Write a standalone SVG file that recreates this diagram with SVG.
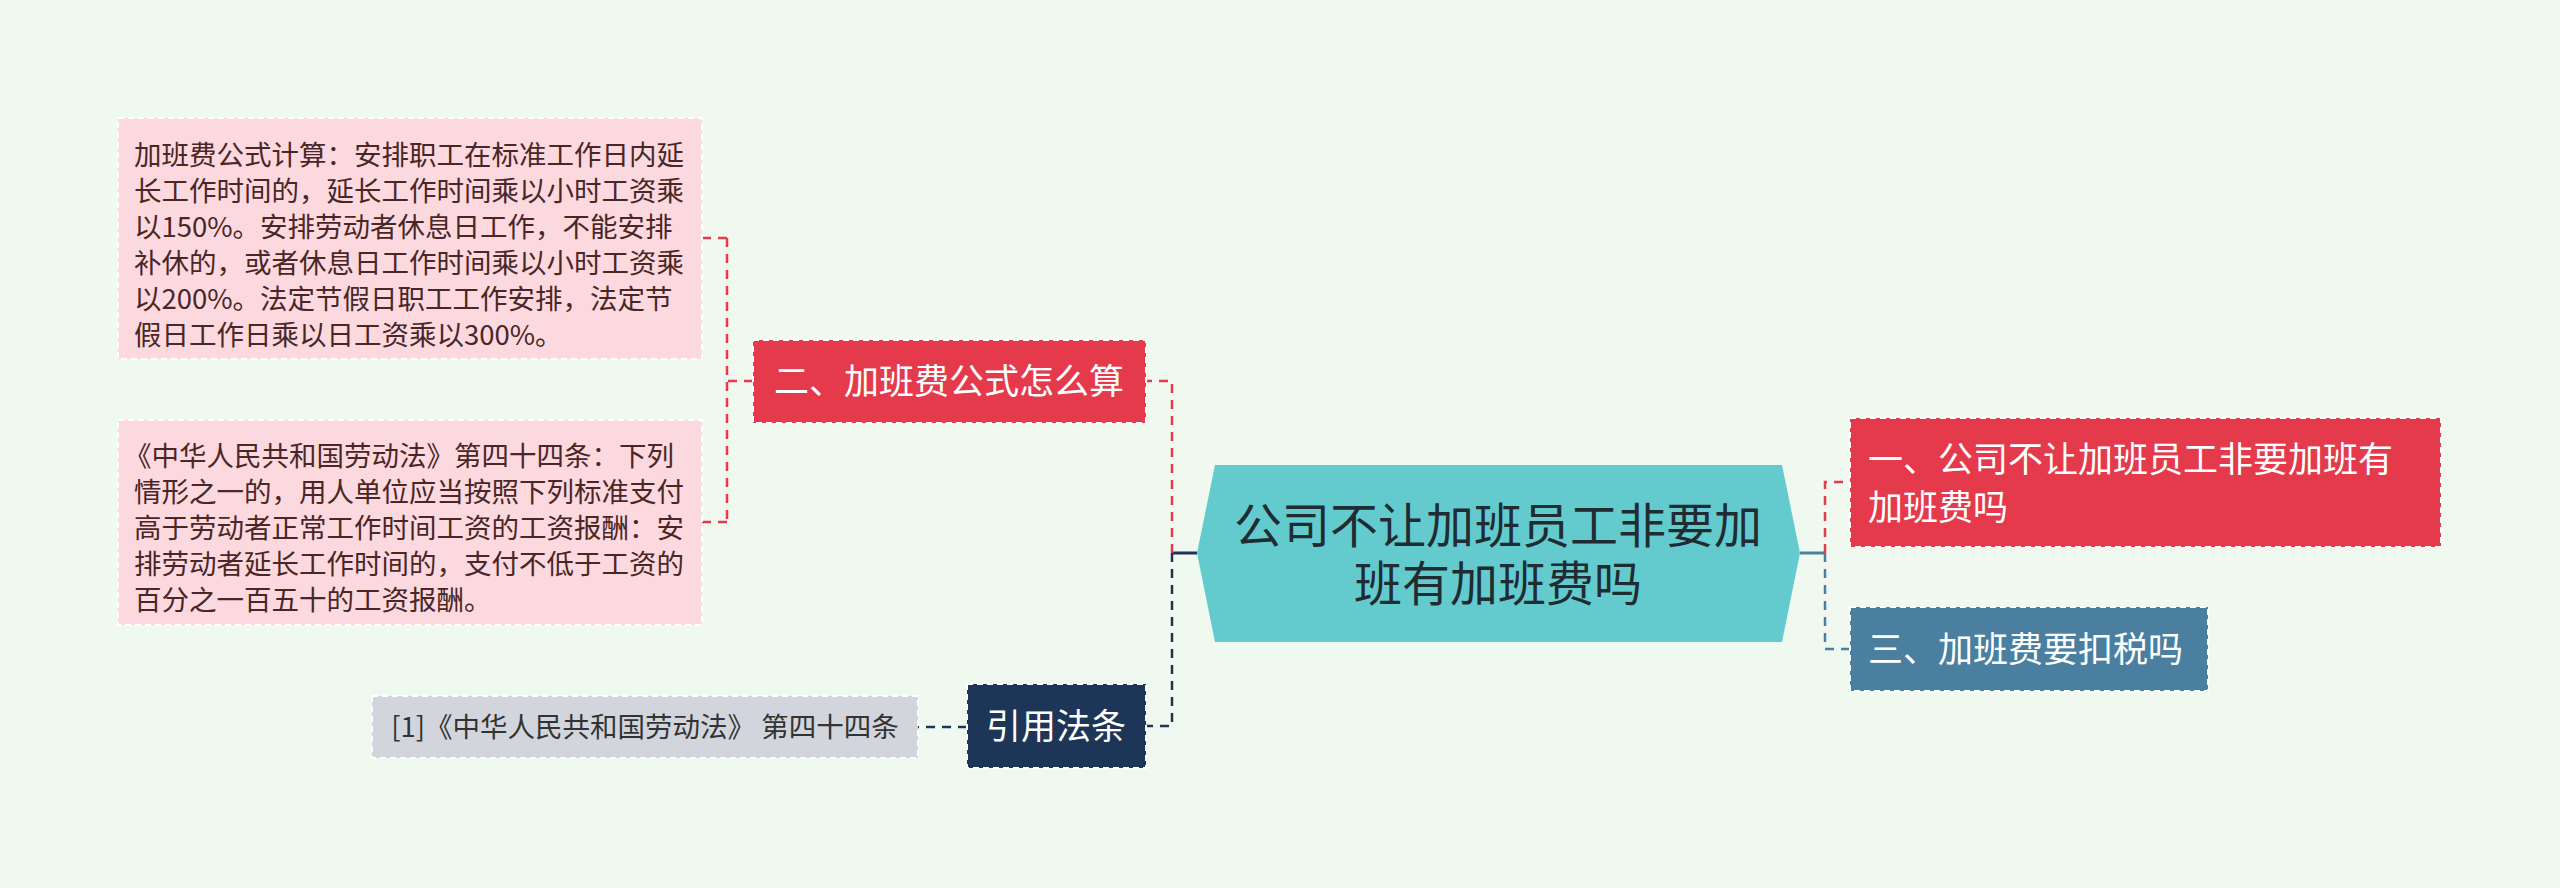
<svg xmlns="http://www.w3.org/2000/svg" width="2560" height="888" viewBox="0 0 2560 888">
<style>
text{font-family:"Noto Sans CJK SC","Liberation Sans",sans-serif}
.leaf{fill:#fbd9de;stroke:#fff;stroke-width:2;stroke-dasharray:6 4}
.lt{font-size:27.5px;fill:#4a2626}
.nt{font-size:35px;fill:#fff}
.c{fill:none;stroke-width:2.5;stroke-dasharray:9 7}
</style>
<rect width="2560" height="888" fill="#f0f9ef"/>
<g id="connectors">
<line x1="1197" y1="553" x2="1172" y2="553" stroke="#1d3557" stroke-width="3"/>
<path class="c" stroke="#e53a4b" d="M1172 553 V381 H1146"/>
<path class="c" stroke="#1d3557" d="M1172 553 V726 H1146"/>
<path class="c" stroke="#e53a4b" d="M753 381 H727 M727 238 V522 M727 238 H702 M727 522 H702"/>
<path class="c" stroke="#1d3557" d="M967 727 H918"/>
<line x1="1800" y1="553" x2="1825" y2="553" stroke="#4a7fa0" stroke-width="3"/>
<path class="c" stroke="#e53a4b" d="M1825 553 V482 H1850"/>
<path class="c" stroke="#4a7fa0" d="M1825 553 V649 H1850"/>
</g>
<g id="center">
<polygon points="1215,465 1782,465 1800,553 1782,642 1215,642 1197,553" fill="#63cbcd"/>
<text x="1498" y="543" font-size="48" fill="#1f2d33" text-anchor="middle">公司不让加班员工非要加</text>
<text x="1498" y="601" font-size="48" fill="#1f2d33" text-anchor="middle">班有加班费吗</text>
</g>
<g id="n1">
<rect x="1850" y="418" width="591" height="129" fill="#e53a4b" stroke="#fff" stroke-width="2" stroke-dasharray="6 4"/>
<text class="nt" x="1868" y="472">一、公司不让加班员工非要加班有</text>
<text class="nt" x="1868" y="520">加班费吗</text>
</g>
<g id="n3">
<rect x="1850" y="607" width="358" height="84" fill="#4a7fa0" stroke="#fff" stroke-width="2" stroke-dasharray="6 4"/>
<text class="nt" x="1868" y="662">三、加班费要扣税吗</text>
</g>
<g id="n2">
<rect x="753" y="340" width="393" height="83" fill="#e53a4b" stroke="#fff" stroke-width="2" stroke-dasharray="6 4"/>
<text class="nt" x="949" y="394" text-anchor="middle">二、加班费公式怎么算</text>
</g>
<g id="leaf1">
<rect class="leaf" x="118" y="118" width="584" height="241"/>
<text class="lt" x="134" y="165">加班费公式计算：安排职工在标准工作日内延</text>
<text class="lt" x="134" y="201">长工作时间的，延长工作时间乘以小时工资乘</text>
<text class="lt" x="134" y="237">以150%。安排劳动者休息日工作，不能安排</text>
<text class="lt" x="134" y="273">补休的，或者休息日工作时间乘以小时工资乘</text>
<text class="lt" x="134" y="309">以200%。法定节假日职工工作安排，法定节</text>
<text class="lt" x="134" y="345">假日工作日乘以日工资乘以300%。</text>
</g>
<g id="leaf2">
<rect class="leaf" x="118" y="420" width="584" height="205"/>
<text class="lt" x="124" y="466">《中华人民共和国劳动法》第四十四条：下列</text>
<text class="lt" x="134" y="502">情形之一的，用人单位应当按照下列标准支付</text>
<text class="lt" x="134" y="538">高于劳动者正常工作时间工资的工资报酬：安</text>
<text class="lt" x="134" y="574">排劳动者延长工作时间的，支付不低于工资的</text>
<text class="lt" x="134" y="610">百分之一百五十的工资报酬。</text>
</g>
<g id="ref">
<rect x="967" y="684" width="179" height="84" fill="#1d3557" stroke="#fff" stroke-width="2" stroke-dasharray="6 4"/>
<text class="nt" x="1056" y="739" text-anchor="middle">引用法条</text>
</g>
<g id="refleaf">
<rect x="372" y="696" width="546" height="62" fill="#d2d6dc" stroke="#fff" stroke-width="2" stroke-dasharray="6 4"/>
<text x="645" y="737" font-size="27.5" fill="#333" text-anchor="middle">[1]《中华人民共和国劳动法》 第四十四条</text>
</g>
</svg>
